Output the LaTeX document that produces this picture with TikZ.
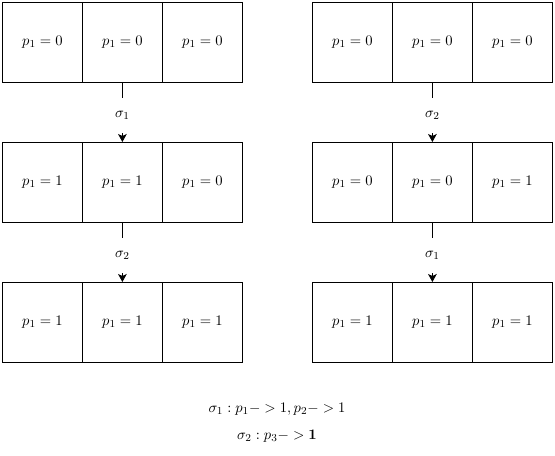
\documentclass[tikz,border=0pt]{standalone}
\usetikzlibrary{arrows.meta}
\begin{document}
\begin{tikzpicture}[x=0.75pt,y=-0.75pt,
  every node/.style={font=\fontsize{10.8}{13}\selectfont},
  cell/.style={draw,line width=0.6pt,minimum width=60pt,minimum height=60pt,inner sep=0pt,anchor=north west},
  conn/.style={line width=0.6pt,-{Stealth[length=6pt,width=6.5pt,inset=1.5pt]}},
  lab/.style={fill=white,inner sep=0pt,minimum height=26pt,minimum width=14pt,pos=0.55}]
\useasboundingbox (0,0) rectangle (555,455);
% left group
\node[cell] (a11) at (2,2) {$p_1=0$};
\node[cell] (a12) at (82,2) {$p_1=0$};
\node[cell] (a13) at (162,2) {$p_1=0$};
\node[cell] (a21) at (2,142) {$p_1=1$};
\node[cell] (a22) at (82,142) {$p_1=1$};
\node[cell] (a23) at (162,142) {$p_1=0$};
\node[cell] (a31) at (2,282) {$p_1=1$};
\node[cell] (a32) at (82,282) {$p_1=1$};
\node[cell] (a33) at (162,282) {$p_1=1$};
% right group
\node[cell] (b11) at (312,2) {$p_1=0$};
\node[cell] (b12) at (392,2) {$p_1=0$};
\node[cell] (b13) at (472,2) {$p_1=0$};
\node[cell] (b21) at (312,142) {$p_1=0$};
\node[cell] (b22) at (392,142) {$p_1=0$};
\node[cell] (b23) at (472,142) {$p_1=1$};
\node[cell] (b31) at (312,282) {$p_1=1$};
\node[cell] (b32) at (392,282) {$p_1=1$};
\node[cell] (b33) at (472,282) {$p_1=1$};
% connectors
\draw[conn] (a12.south) -- node[lab] {$\sigma_1$} (a22.north);
\draw[conn] (a22.south) -- node[lab] {$\sigma_2$} (a32.north);
\draw[conn] (b12.south) -- node[lab] {$\sigma_2$} (b22.north);
\draw[conn] (b22.south) -- node[lab] {$\sigma_1$} (b32.north);
% legend
\node (l1) at (277,409) {$\sigma_1 : p_1-> 1, p_2-> 1$};
\node (l2) at (277,436) {$\sigma_2 : p_3-> \mathbf{1}$};
\end{tikzpicture}
\end{document}
